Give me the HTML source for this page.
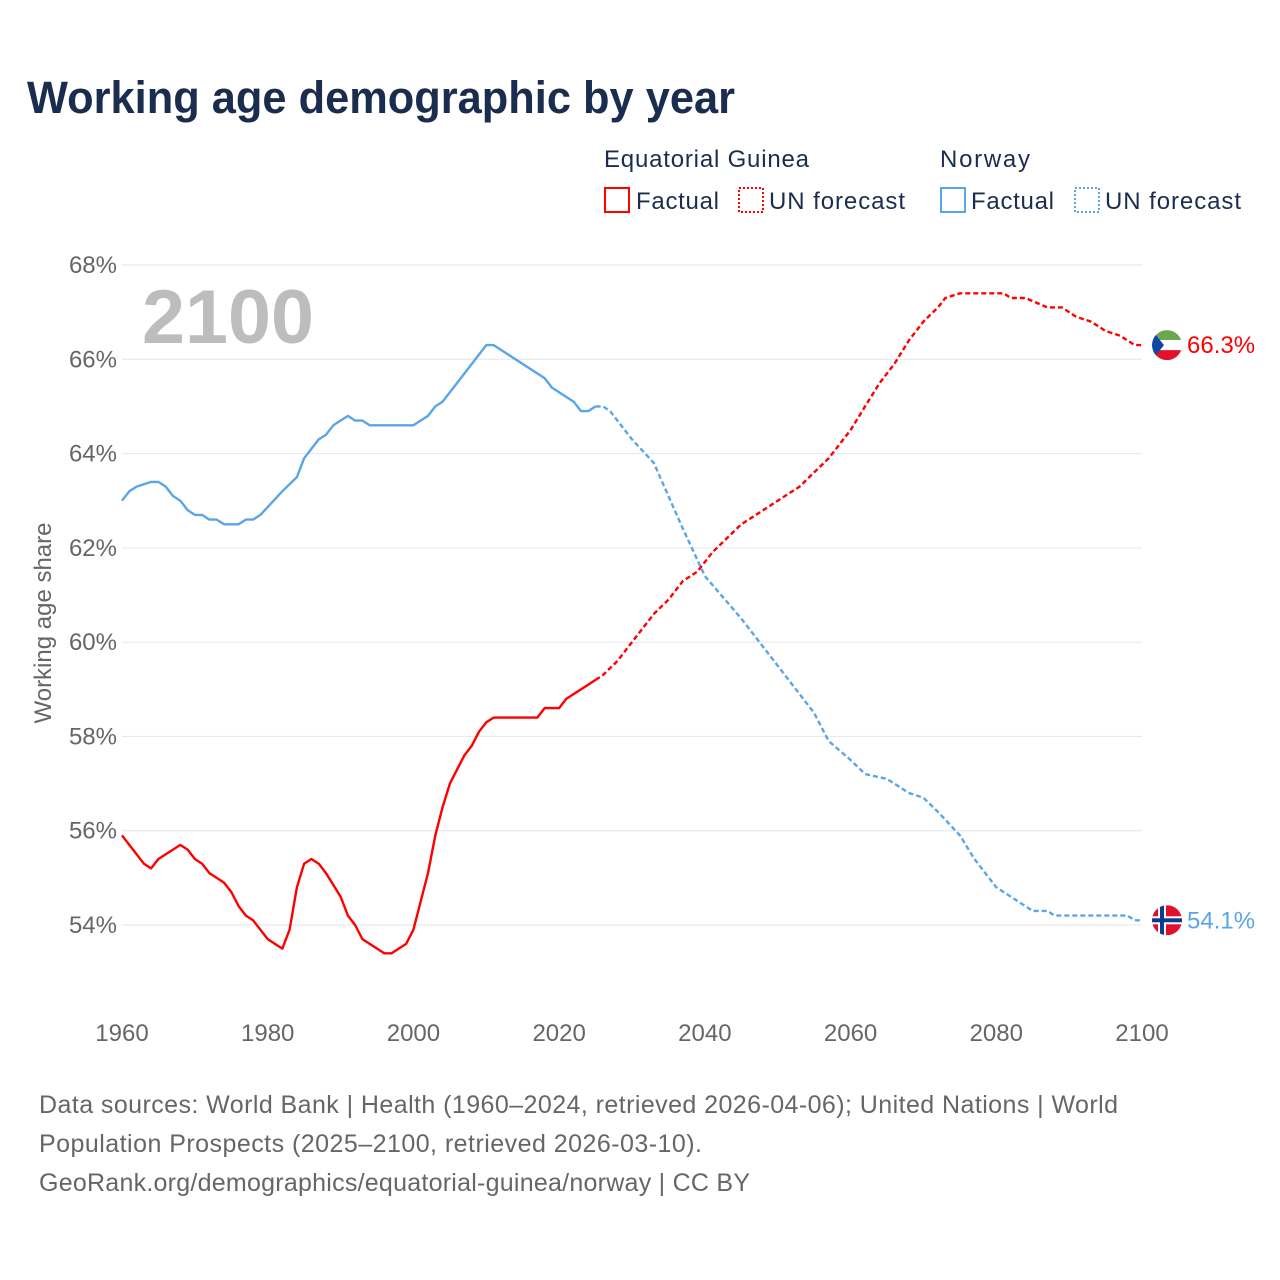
<!DOCTYPE html>
<html><head><meta charset="utf-8"><style>
body{margin:0;background:#fff;font-family:"Liberation Sans",sans-serif;}
svg{display:block}
</style></head><body>
<svg id="chart" width="1280" height="1280" viewBox="0 0 1280 1280">
<text x="27" y="113" font-size="45" font-weight="bold" fill="#1b2d4e" textLength="708" lengthAdjust="spacingAndGlyphs">Working age demographic by year</text>
<g font-size="24" fill="#1b2d4e">
<text x="604" y="167" textLength="205">Equatorial Guinea</text>
<text x="940" y="167" textLength="90">Norway</text>
<rect x="605" y="188" width="24" height="24" fill="none" stroke="#ff0000" stroke-width="2"/>
<text x="636" y="209" textLength="83">Factual</text>
<rect x="739" y="188" width="24" height="24" fill="none" stroke="#ff0000" stroke-width="2" stroke-dasharray="2,2"/>
<text x="769" y="209" textLength="136">UN forecast</text>
<rect x="941" y="188" width="24" height="24" fill="none" stroke="#5aa5ea" stroke-width="2"/>
<text x="971" y="209" textLength="83">Factual</text>
<rect x="1075" y="188" width="24" height="24" fill="none" stroke="#5aa5ea" stroke-width="2" stroke-dasharray="2,2"/>
<text x="1105" y="209" textLength="136">UN forecast</text>
</g>
<text x="142" y="343" font-size="76" font-weight="bold" fill="#bdbdbd" textLength="172" lengthAdjust="spacingAndGlyphs">2100</text>
<text transform="translate(51,623) rotate(-90)" text-anchor="middle" font-size="24" fill="#666">Working age share</text>
<g id="grid"></g><g id="lines"></g><g id="ends"></g>
<g font-size="25" fill="#666">
<text x="39" y="1113" textLength="1079">Data sources: World Bank | Health (1960–2024, retrieved 2026-04-06); United Nations | World</text>
<text x="39" y="1152" textLength="663">Population Prospects (2025–2100, retrieved 2026-03-10).</text>
<text x="39" y="1191" textLength="711">GeoRank.org/demographics/equatorial-guinea/norway | CC BY</text>
</g>
</svg>
<script>
const yTicks=[54,56,58,60,62,64,66,68];
const xTicks=[1960,1980,2000,2020,2040,2060,2080,2100];
const egFactYears=[1960,1963,1964,1965,1968,1969,1970,1971,1972,1974,1975,1976,1977,1978,1980,1982,1983,1984,1985,1986,1987,1988,1990,1991,1992,1993,1996,1997,1999,2000,2002,2003,2004,2005,2006,2007,2008,2009,2010,2011,2017,2018,2020,2021,2024,2025];
const egFactVals=[55.9,55.3,55.2,55.4,55.7,55.6,55.4,55.3,55.1,54.9,54.7,54.4,54.2,54.1,53.7,53.5,53.9,54.8,55.3,55.4,55.3,55.1,54.6,54.2,54.0,53.7,53.4,53.4,53.6,53.9,55.1,55.9,56.5,57.0,57.3,57.6,57.8,58.1,58.3,58.4,58.4,58.6,58.6,58.8,59.1,59.2];
const egFcYears=[2025,2026,2028,2030,2033,2035,2037,2039,2041,2043,2045,2047,2050,2053,2055,2057,2060,2062,2064,2066,2068,2070,2072,2073,2075,2081,2082,2084,2087,2089,2091,2093,2095,2097,2099,2100];
const egFcVals=[59.2,59.3,59.6,60.0,60.6,60.9,61.3,61.5,61.9,62.2,62.5,62.7,63.0,63.3,63.6,63.9,64.5,65.0,65.5,65.9,66.4,66.8,67.1,67.3,67.4,67.4,67.3,67.3,67.1,67.1,66.9,66.8,66.6,66.5,66.3,66.3];
const noFactYears=[1960,1961,1962,1964,1965,1966,1967,1968,1969,1970,1971,1972,1973,1974,1976,1977,1978,1979,1982,1984,1985,1986,1987,1988,1989,1991,1992,1993,1994,2000,2002,2003,2004,2010,2011,2018,2019,2022,2023,2024,2025];
const noFactVals=[63.0,63.2,63.3,63.4,63.4,63.3,63.1,63.0,62.8,62.7,62.7,62.6,62.6,62.5,62.5,62.6,62.6,62.7,63.2,63.5,63.9,64.1,64.3,64.4,64.6,64.8,64.7,64.7,64.6,64.6,64.8,65.0,65.1,66.3,66.3,65.6,65.4,65.1,64.9,64.9,65.0];
const noFcYears=[2025,2026,2027,2030,2033,2035,2037,2040,2045,2050,2055,2057,2060,2062,2065,2068,2070,2072,2075,2077,2080,2085,2087,2088,2098,2099,2100];
const noFcVals=[65.0,65.0,64.9,64.3,63.8,63.1,62.4,61.4,60.5,59.5,58.5,57.9,57.5,57.2,57.1,56.8,56.7,56.4,55.9,55.4,54.8,54.3,54.3,54.2,54.2,54.1,54.1];
const NS='http://www.w3.org/2000/svg';
const X=y=>122+(y-1960)*(1142-122)/140;
const Y=v=>265+(68-v)*(925-265)/14;
function mk(t,a,p){const e=document.createElementNS(NS,t);for(const k in a)e.setAttribute(k,a[k]);p.appendChild(e);return e;}
const grid=document.getElementById('grid');
yTicks.forEach(t=>{
 const l=mk('line',{x1:122,x2:1142,y1:Y(t),y2:Y(t),stroke:'#e6e6e6','stroke-width':1},grid);
 
 
 const tx=mk('text',{x:117,y:Y(t)+8,'text-anchor':'end','font-size':24,fill:'#666'},grid);
 tx.textContent=t+'%';
 
 
});
xTicks.forEach(t=>{
 const tx=mk('text',{x:X(t),y:1041,'text-anchor':'middle','font-size':24,fill:'#666'},grid);
 tx.textContent=t;
 
 
});
const lines=document.getElementById('lines');
function line(ys,vs,col,dash,name){
 const d=ys.map((y,i)=>(i?'L':'M')+X(y).toFixed(1)+','+Y(vs[i]).toFixed(1)).join('');
 const p=mk('path',{d:d,fill:'none',stroke:col,'stroke-width':2.4,'stroke-linejoin':'round'},lines);
 if(dash)p.setAttribute('stroke-dasharray','5,3');
 
 
}
line(noFactYears,noFactVals,'#5aa5ea',false,'norway-factual-line');
line(noFcYears,noFcVals,'#5aa5ea',true,'norway-forecast-line');
line(egFactYears,egFactVals,'#ff0000',false,'eg-factual-line');
line(egFcYears,egFcVals,'#ff0000',true,'eg-forecast-line');
const ends=document.getElementById('ends');
const egEnd=egFcVals[egFcVals.length-1], noEnd=noFcVals[noFcVals.length-1];
const gy=Y(egEnd), cx=1167;
const g1=mk('g',{},ends);


const cp1=mk('clipPath',{id:'c1'},g1);mk('circle',{cx:cx,cy:gy,r:15},cp1);
const gg=mk('g',{'clip-path':'url(#c1)'},g1);
mk('rect',{x:cx-15,y:gy-15,width:30,height:10,fill:'#6aa84f'},gg);
mk('rect',{x:cx-15,y:gy-5,width:30,height:10,fill:'#fff'},gg);
mk('rect',{x:cx-15,y:gy+5,width:30,height:10,fill:'#e3122a'},gg);
mk('polygon',{points:`${cx-15},${gy-15} ${cx-3},${gy} ${cx-15},${gy+15}`,fill:'#0d47a1'},gg);
const t1=mk('text',{x:1187,y:gy+8,'font-size':24,fill:'#ff0000'},ends);
t1.textContent=egEnd.toFixed(1)+'%';


const ny=Y(noEnd);
const g2=mk('g',{},ends);


const cp=mk('clipPath',{id:'c2'},g2);mk('circle',{cx:cx,cy:ny,r:15},cp);
const ng=mk('g',{'clip-path':'url(#c2)'},g2);
mk('rect',{x:cx-15,y:ny-15,width:30,height:30,fill:'#e0102f'},ng);
mk('rect',{x:cx-9,y:ny-15,width:8,height:30,fill:'#fff'},ng);
mk('rect',{x:cx-15,y:ny-4,width:30,height:8,fill:'#fff'},ng);
mk('rect',{x:cx-7,y:ny-15,width:4,height:30,fill:'#0d3a8c'},ng);
mk('rect',{x:cx-15,y:ny-2,width:30,height:4,fill:'#0d3a8c'},ng);
const t2=mk('text',{x:1187,y:ny+8,'font-size':24,fill:'#5aa5ea'},ends);
t2.textContent=noEnd.toFixed(1)+'%';


</script>
</body></html>
